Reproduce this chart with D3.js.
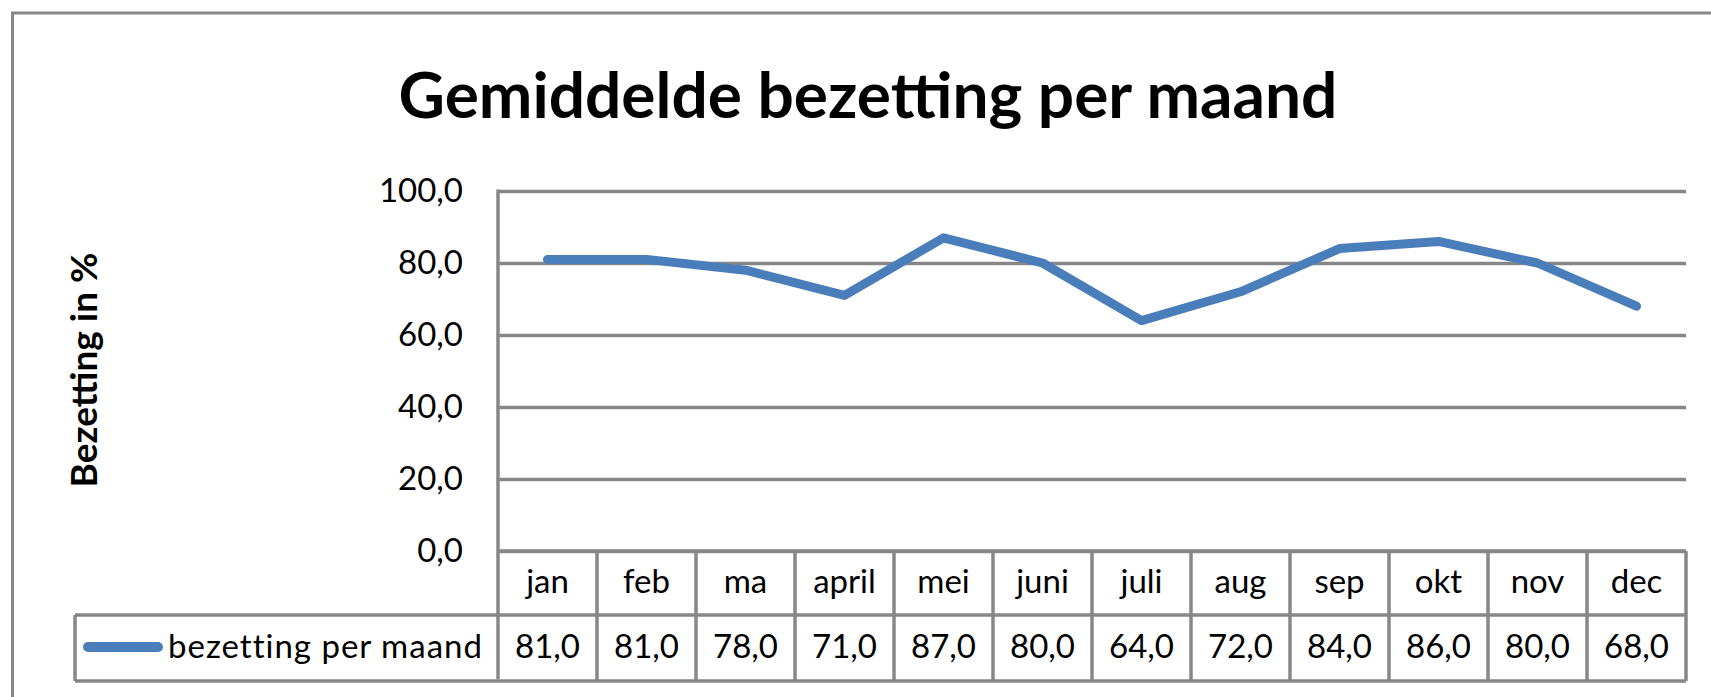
<!DOCTYPE html>
<html>
<head>
<meta charset="utf-8">
<script src="https://cdn.jsdelivr.net/npm/d3@7"></script>
<style>
  body { margin: 0; background: #fff; }
  text { font-family: Lato, "Open Sans", sans-serif; fill: #000; }
</style>
</head>
<body>
<div id="chart"></div>
<script>
// data
const months = ["jan", "feb", "ma", "april", "mei", "juni", "juli", "aug", "sep", "okt", "nov", "dec"];
const bezetting = [81, 81, 78, 71, 87, 80, 64, 72, 84, 86, 80, 68];
const yTicks = [0, 20, 40, 60, 80, 100];
const seriesName = "bezetting per maand";

const w = 1711, h = 697;
const gridColor = "#878787";
const lineColor = "#4a7ebb";

const plotLeft = 498, plotRight = 1686, plotTop = 191, plotBottom = 551;
const rowH = 64; // height of the data table rows

const fmt = d => d3.format(".1f")(d).replace(".", ",");

const svg = d3.select("#chart").append("svg")
  .attr("width", w)
  .attr("height", h);

// outer chart border (runs off the right and bottom of the picture)
svg.append("rect")
  .attr("x", 12.5).attr("y", 13)
  .attr("width", w + 20).attr("height", h + 20)
  .attr("fill", "none")
  .attr("stroke", gridColor)
  .attr("stroke-width", 3);

const x = d3.scaleBand().domain(months).range([plotLeft, plotRight]);
const y = d3.scaleLinear().domain([0, 100]).range([plotBottom, plotTop]);

// title
svg.append("text")
  .attr("x", 868).attr("y", 118)
  .attr("text-anchor", "middle")
  .attr("font-size", 64)
  .attr("font-weight", "bold")
  .text("Gemiddelde bezetting per maand");

// y axis title
svg.append("text")
  .attr("transform", "translate(97,370) rotate(-90)")
  .attr("text-anchor", "middle")
  .attr("font-size", 37)
  .attr("font-weight", "bold")
  .text("Bezetting in %");

// gridlines + tick labels
const yAxis = d3.axisLeft(y)
  .tickValues(yTicks)
  .tickSize(-(plotRight - plotLeft))
  .tickPadding(plotLeft - 463)
  .tickFormat(fmt);

const gy = svg.append("g")
  .attr("transform", `translate(${plotLeft},0)`)
  .call(yAxis);
gy.select(".domain").remove();
gy.selectAll(".tick line")
  .attr("stroke", gridColor)
  .attr("stroke-width", 3.5);
gy.selectAll(".tick text")
  .attr("font-size", 33)
  .attr("font-family", "Lato, sans-serif")
  .attr("fill", "#000")
  .attr("dy", "0.32em");

// plot area left edge
svg.append("line")
  .attr("x1", plotLeft).attr("x2", plotLeft)
  .attr("y1", plotTop - 1.5).attr("y2", plotBottom + 2 * rowH)
  .attr("stroke", gridColor).attr("stroke-width", 3.5);

// data table
const table = svg.append("g");
const tableTop = plotBottom, rowMid = plotBottom + rowH, tableBottom = plotBottom + 2 * rowH + 2;

table.append("line")
  .attr("x1", plotLeft).attr("x2", plotRight)
  .attr("y1", tableTop).attr("y2", tableTop)
  .attr("stroke", gridColor).attr("stroke-width", 3.5);
table.append("line")
  .attr("x1", 75).attr("x2", plotRight)
  .attr("y1", rowMid).attr("y2", rowMid)
  .attr("stroke", gridColor).attr("stroke-width", 3.5);
table.append("line")
  .attr("x1", 75).attr("x2", plotRight)
  .attr("y1", tableBottom).attr("y2", tableBottom)
  .attr("stroke", gridColor).attr("stroke-width", 3.5);
table.append("line")
  .attr("x1", 75).attr("x2", 75)
  .attr("y1", rowMid).attr("y2", tableBottom)
  .attr("stroke", gridColor).attr("stroke-width", 3.5);

table.selectAll("line.col")
  .data(months)
  .enter()
  .append("line")
  .attr("class", "col")
  .attr("x1", d => x(d) + x.bandwidth())
  .attr("x2", d => x(d) + x.bandwidth())
  .attr("y1", tableTop).attr("y2", tableBottom)
  .attr("stroke", gridColor).attr("stroke-width", 3.5);

table.selectAll("text.month")
  .data(months)
  .enter()
  .append("text")
  .attr("class", "month")
  .attr("x", d => x(d) + x.bandwidth() / 2)
  .attr("y", 593)
  .attr("text-anchor", "middle")
  .attr("font-size", 33)
  .text(d => d);

table.selectAll("text.val")
  .data(bezetting)
  .enter()
  .append("text")
  .attr("class", "val")
  .attr("x", (d, i) => x(months[i]) + x.bandwidth() / 2)
  .attr("y", 658)
  .attr("text-anchor", "middle")
  .attr("font-size", 33)
  .text(d => fmt(d));

// legend key in the table
table.append("line")
  .attr("x1", 88).attr("x2", 158)
  .attr("y1", 647).attr("y2", 647)
  .attr("stroke", lineColor)
  .attr("stroke-width", 10)
  .attr("stroke-linecap", "round");
table.append("text")
  .attr("x", 168).attr("y", 658)
  .attr("font-size", 33)
  .attr("letter-spacing", 1)
  .text(seriesName);

// the line
const line = d3.line()
  .x((d, i) => x(months[i]) + x.bandwidth() / 2)
  .y(d => y(d));

svg.append("path")
  .datum(bezetting)
  .attr("d", line)
  .attr("fill", "none")
  .attr("stroke", lineColor)
  .attr("stroke-width", 9)
  .attr("stroke-linejoin", "round")
  .attr("stroke-linecap", "round");
</script>
</body>
</html>
